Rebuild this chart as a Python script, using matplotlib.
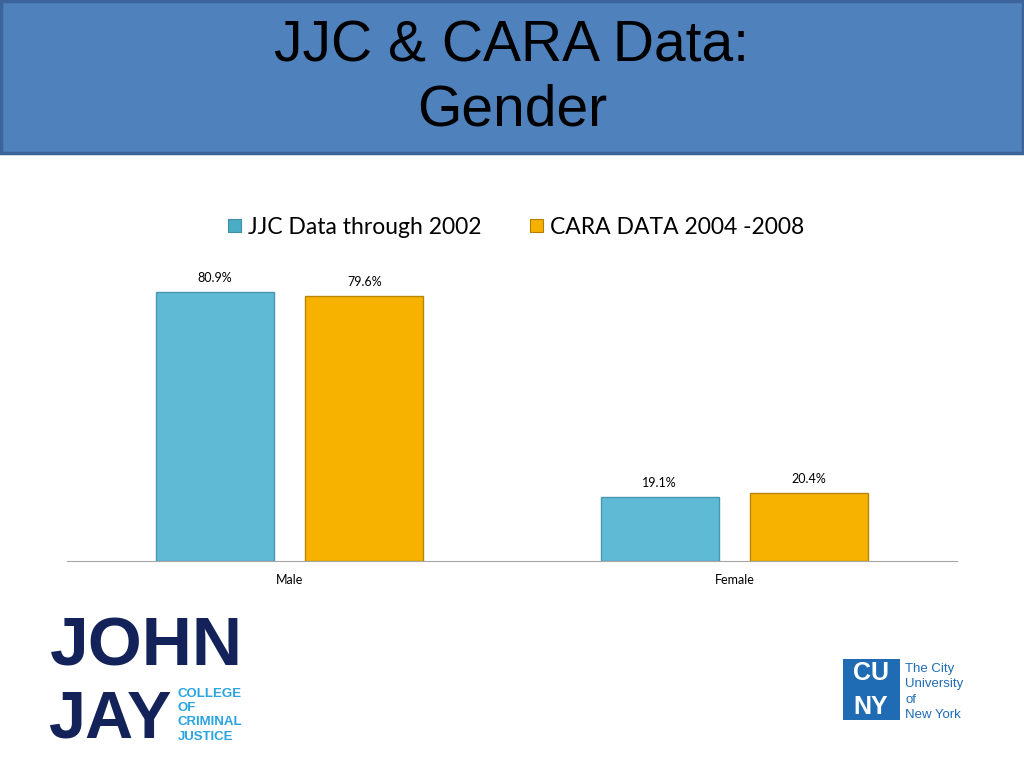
import numpy as np
import matplotlib
matplotlib.use('Agg')
from matplotlib import pyplot as plt
from matplotlib.patches import Rectangle

categories = ['Male', 'Female']
series_names = ['JJC Data through 2002', 'CARA DATA 2004 -2008']
jjc = [80.9, 19.1]
cara = [79.6, 20.4]
value_labels = [['80.9%', '19.1%'], ['79.6%', '20.4%']]

W, H = 1024, 768
fig = plt.figure(figsize=(10.24, 7.68), dpi=100)
fig.patch.set_facecolor('white')

def fx(px):
    return px / W

def fy(py):
    return 1 - py / H

sans = ['Liberation Sans', 'DejaVu Sans']

# title banner
bg = fig.add_axes([0, 0, 1, 1])
bg.set_xlim(0, W)
bg.set_ylim(H, 0)
bg.axis('off')
bg.add_patch(Rectangle((1, 1), W - 2, 152, facecolor='#4F81BD', edgecolor='#3A649A', lw=2.5))
bg.text(512, 62, 'JJC & CARA Data:', ha='center', va='baseline', fontsize=41, family=sans, color='black')
bg.text(512, 125, 'Gender', ha='center', va='baseline', fontsize=41, family=sans, color='black')

# legend
bg.add_patch(Rectangle((228, 219), 13, 13, facecolor='#4BACC6', edgecolor='#3C8FA6', lw=0.8))
bg.text(248, 227, series_names[0], ha='left', va='center', fontsize=16.5, family='Lato', color='black')
bg.add_patch(Rectangle((530, 219), 13, 13, facecolor='#F5B000', edgecolor='#B08000', lw=0.8))
bg.text(550, 227, series_names[1], ha='left', va='center', fontsize=16.5, family='Lato', color='black')

# John Jay logo
bg.text(50, 666, 'JOHN', ha='left', va='baseline', fontsize=50, family=sans, weight='bold', color='#14225A')
bg.text(48, 738, 'JAY', ha='left', va='baseline', fontsize=48, family=sans, weight='bold', color='#14225A')
for i, w in enumerate(['COLLEGE', 'OF', 'CRIMINAL', 'JUSTICE']):
    bg.text(178, 697 + i * 14.2, w, ha='left', va='baseline', fontsize=9.5, family=sans, weight='bold', color='#2AA4DF')

# CUNY logo
bg.add_patch(Rectangle((843, 659), 57, 61, facecolor='#1F6CB4', edgecolor='none'))
bg.text(871, 673, 'CU', ha='center', va='center', fontsize=18, family=sans, weight='bold', color='white')
bg.text(871, 707, 'NY', ha='center', va='center', fontsize=18, family=sans, weight='bold', color='white')
for i, w in enumerate(['The City', 'University', 'of', 'New York']):
    bg.text(905, 672 + i * 15.5, w, ha='left', va='baseline', fontsize=9.5, family=sans, color='#1F6CB4')

# chart
ax = fig.add_axes([fx(67), fy(561), fx(957) - fx(67), fy(228.5) - fy(561)])
ax.patch.set_alpha(0)
x = np.arange(len(categories))
bw = 0.265
off = 0.168
b1 = ax.bar(x - off, jjc, bw, color='#5FBAD6', edgecolor='#4A98B0', lw=1)
b2 = ax.bar(x + off, cara, bw, color='#F7B200', edgecolor='#B88500', lw=1)
ax.set_xlim(-0.5, 1.5)
ax.set_ylim(0, 100)
for bars, labs in zip([b1, b2], value_labels):
    for b, lab in zip(bars, labs):
        ax.annotate(lab, (b.get_x() + b.get_width() / 2, b.get_height()), xytext=(0, 6),
                    textcoords='offset points', ha='center', va='bottom', fontsize=9, family='Lato')
ax.set_xticks(x)
ax.set_xticklabels(categories, fontsize=9, family='Lato')
ax.tick_params(axis='x', length=0, pad=9)
ax.set_yticks([])
for s in ['top', 'right', 'left']:
    ax.spines[s].set_visible(False)
ax.spines['bottom'].set_color('#A6A6A6')

plt.savefig('out.png', dpi=100)
